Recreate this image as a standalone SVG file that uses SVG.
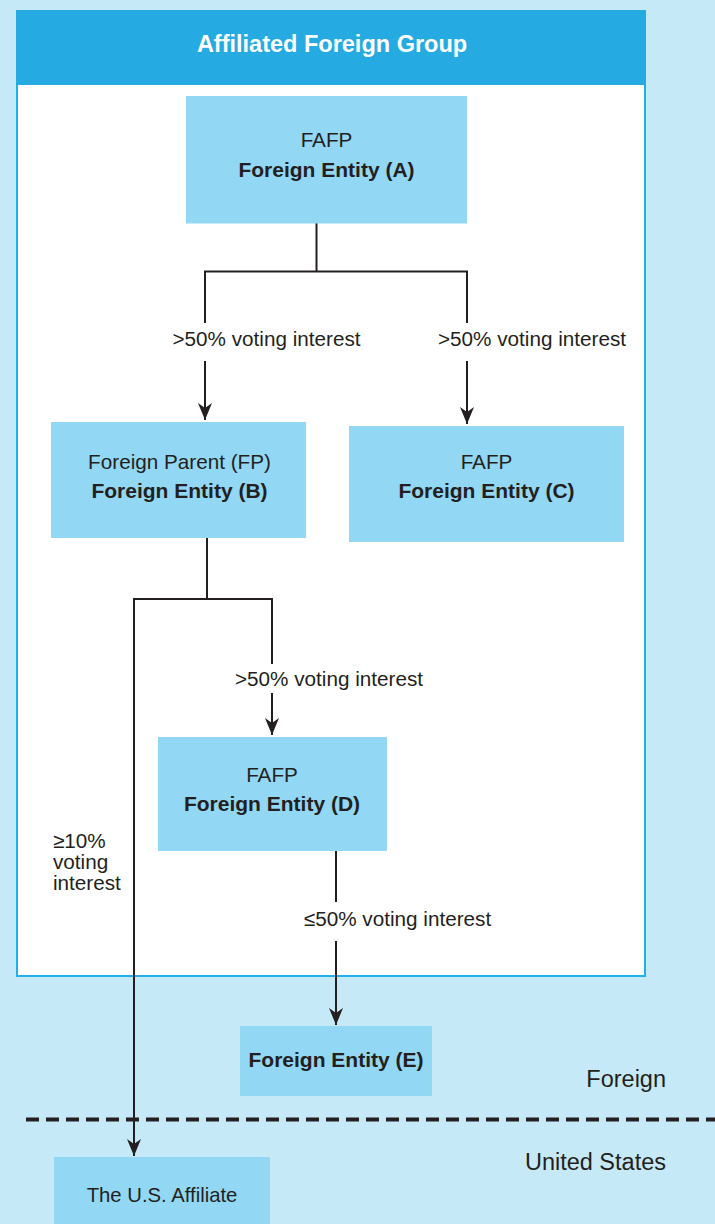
<svg xmlns="http://www.w3.org/2000/svg" width="715" height="1224" viewBox="0 0 715 1224">
<style>
text{font-family:"Liberation Sans",Arial,sans-serif;fill:#231f20}
.n{fill:#92d7f4}
.r{font-size:20.7px}
.b{font-size:21px;font-weight:bold}
.big{font-size:23.5px}
.c{text-anchor:middle}
.ln{fill:none;stroke:#231f20;stroke-width:2}
</style>
<defs>
<marker id="ah" markerUnits="userSpaceOnUse" markerWidth="20" markerHeight="16" viewBox="0 -8 18 16" refX="17" refY="0" orient="auto">
<path d="M0,-7 L17,0 L0,7 L5,0 Z" fill="#231f20"/>
</marker>
</defs>
<rect x="0" y="0" width="715" height="1224" fill="#c6e9f8"/>
<g id="group">
<rect x="17" y="11" width="628" height="965" fill="#ffffff" stroke="#1fb1ea" stroke-width="2"/>
<rect x="16" y="10" width="630" height="75" fill="#25abe2"/>
<text x="332" y="52" class="c" style="font-size:23.5px;font-weight:bold;fill:#ffffff">Affiliated Foreign Group</text>
</g>
<g id="divider">
<line x1="26" y1="1119.5" x2="715" y2="1119.5" stroke="#231f20" stroke-width="4" stroke-dasharray="13,7"/>
<text x="666" y="1087" class="big" text-anchor="end">Foreign</text>
<text x="666" y="1170" class="big" text-anchor="end">United States</text>
</g>
<g id="connectors">
<path class="ln" d="M316.5,223 V271.5"/>
<path class="ln" d="M205,323 V271.5 H467 V323"/>
<path class="ln" d="M205,361 V420" marker-end="url(#ah)"/>
<path class="ln" d="M467,361 V424" marker-end="url(#ah)"/>
<path class="ln" d="M207,538 V599 H272 V664"/>
<path class="ln" d="M272,693 V735" marker-end="url(#ah)"/>
<path class="ln" d="M207,599 H134 V1156" marker-end="url(#ah)"/>
<path class="ln" d="M336,851 V902"/>
<path class="ln" d="M336,941 V1025" marker-end="url(#ah)"/>
<text x="266.5" y="346" class="r c">&gt;50% voting interest</text>
<text x="532" y="346" class="r c">&gt;50% voting interest</text>
<text x="329" y="686" class="r c">&gt;50% voting interest</text>
<text x="397.5" y="926" class="r c">≤50% voting interest</text>
<text x="53" y="848" class="r">≥10%</text>
<text x="53" y="869" class="r">voting</text>
<text x="53" y="890" class="r">interest</text>
</g>
<g id="nodeA">
<rect class="n" x="186" y="96" width="281" height="127.5"/>
<text x="326.5" y="147" class="r c">FAFP</text>
<text x="326.5" y="177" class="b c">Foreign Entity (A)</text>
</g>
<g id="nodeB">
<rect class="n" x="51" y="422" width="255" height="116"/>
<text x="179.5" y="469" class="r c">Foreign Parent (FP)</text>
<text x="179.5" y="498" class="b c">Foreign Entity (B)</text>
</g>
<g id="nodeC">
<rect class="n" x="349" y="426" width="275" height="116"/>
<text x="486.5" y="469" class="r c">FAFP</text>
<text x="486.5" y="498" class="b c">Foreign Entity (C)</text>
</g>
<g id="nodeD">
<rect class="n" x="158" y="737" width="229" height="114"/>
<text x="272" y="782" class="r c">FAFP</text>
<text x="272" y="811" class="b c">Foreign Entity (D)</text>
</g>
<g id="nodeE">
<rect class="n" x="240" y="1026" width="192" height="70"/>
<text x="336" y="1067" class="b c">Foreign Entity (E)</text>
</g>
<g id="nodeUS">
<rect class="n" x="54" y="1157" width="216" height="67"/>
<text x="162" y="1202" class="c" style="font-size:20.3px">The U.S. Affiliate</text>
</g>
</svg>
